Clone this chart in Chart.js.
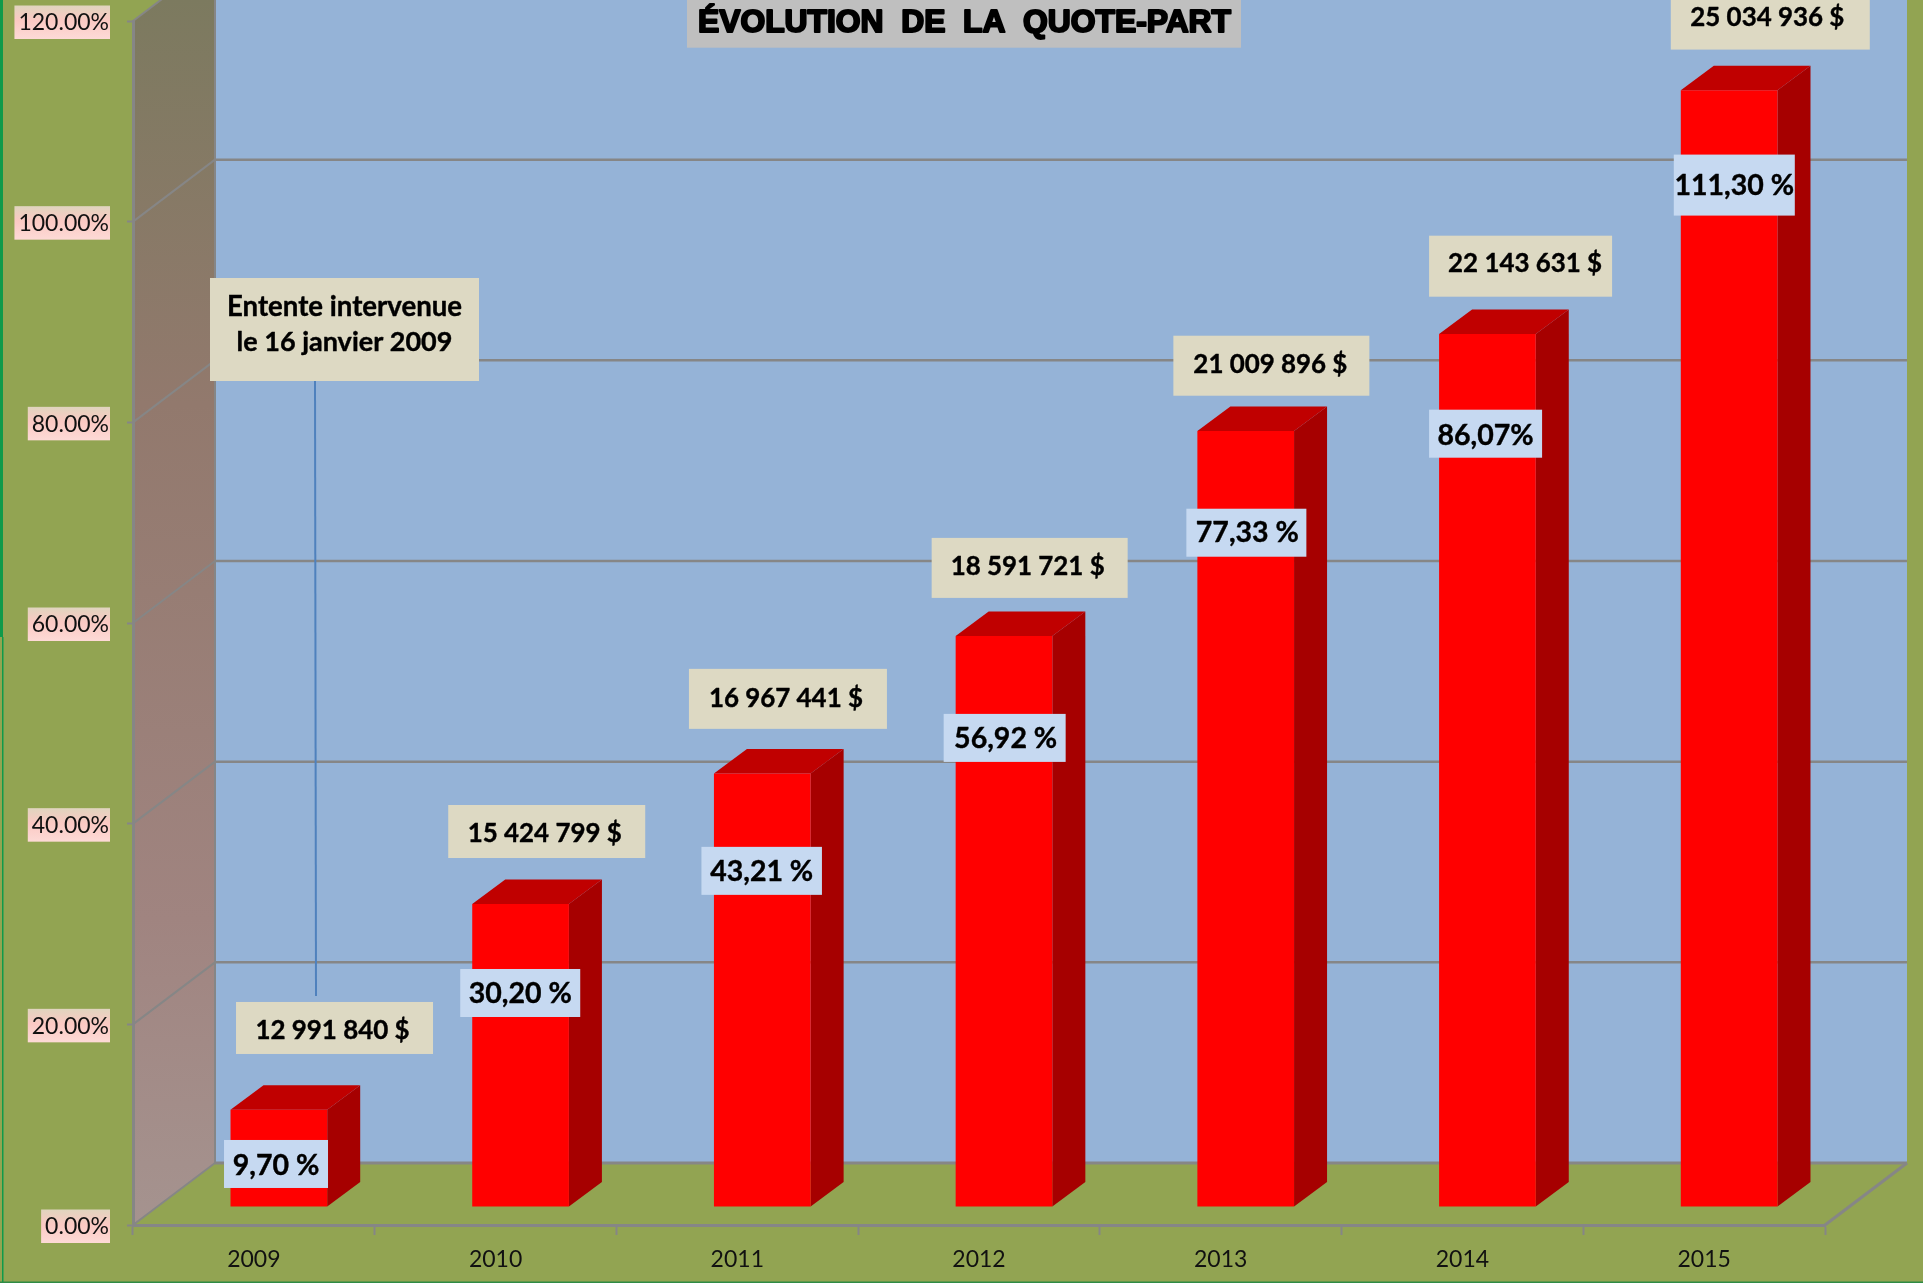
<!DOCTYPE html>
<html lang="fr">
<head>
<meta charset="utf-8">
<title>Évolution de la quote-part</title>
<style>
html,body{margin:0;padding:0;background:#92A452;overflow:hidden}
canvas{display:block}
</style>
<script src="https://cdn.jsdelivr.net/npm/chart.js@4"></script>
</head>
<body>
<canvas id="c" width="1923" height="1283"></canvas>
<script>
const categories = ['2009','2010','2011','2012','2013','2014','2015'];
const barValues = [9.70, 30.20, 43.21, 56.92, 77.33, 87.00, 111.30];
const percentLabels = ['9,70 %','30,20 %','43,21 %','56,92 %','77,33 %','86,07%','111,30 %'];
const amountLabels = ['12 991 840 $','15 424 799 $','16 967 441 $','18 591 721 $','21 009 896 $','22 143 631 $','25 034 936 $'];
const titleText = 'ÉVOLUTION  DE  LA  QUOTE-PART';
const noteLines = ['Entente intervenue','le 16 janvier 2009'];

// label boxes, placed relative to each bar's top-left front corner: [dx, dy, w, h]
const amountBoxes = [[5.5,-107.7,197,52],[-24,-99,197,53],[-25,-104.6,198,60],[-24,-98,196,60],[-24,-95.4,196,60],[-10,-98.4,183,61],[-10,-99.7,199,59]];
const percentBoxes = [[-6.5,30.3,104,48],[-12,65,120,48],[-12.5,73.4,120.5,48],[-12,78,122,48],[-11,77.6,120,48],[-10,75.6,113,48],[-7,64.3,121,61]];
// small nudges of the text inside its box: [dx, dy]
const amountNudge = [[-2,2.4],[-2,2.4],[-2,0],[-2,-1],[-1,-1],[4.5,-2.4],[-3,-2.4]];
const percentNudge = [[0,2],[0,1],[0,1],[1,1],[1,0],[0,2],[0,1]];

const GREEN='#92A452', WALL='#95B3D7', GRID='#868686', BOXTAN='#DDD9C3', BOXBLUE='#C6D9F1';
const FONT_R='Lato, sans-serif';
const wall = {dx:82, dy:-62};      // depth of the floor
const row  = {dx:25, dy:-18};      // where the bars stand on the floor
const bar3d = {dx:33, dy:-24.5};   // depth of a bar

const scene = {
  id:'scene',
  beforeDraw(chart){
    const {ctx, chartArea:a, scales:{y}} = chart;
    const W = chart.width, H = chart.height;
    ctx.save();
    ctx.fillStyle = GREEN; ctx.fillRect(0,0,W,H);
    // outer green frame
    ctx.fillStyle = '#0F9A4A';
    ctx.fillRect(0,0,3,637); ctx.fillRect(2,637,1.5,H-637);
    ctx.fillStyle = '#2E8B45';
    ctx.fillRect(0,H-1.5,W,1.5);
    const bx = a.left+wall.dx, by = a.bottom+wall.dy, rx = a.right+wall.dx, ty = a.top+wall.dy;
    // back wall
    ctx.fillStyle = WALL; ctx.fillRect(bx,0,rx-bx,by);
    // side wall
    const g = ctx.createLinearGradient(0,0,0,a.bottom);
    g.addColorStop(0,'#7C7A5F'); g.addColorStop(0.33,'#92796D'); g.addColorStop(0.75,'#A08480'); g.addColorStop(1,'#A5938F');
    ctx.fillStyle = g;
    ctx.beginPath(); ctx.moveTo(a.left,a.top); ctx.lineTo(bx,ty); ctx.lineTo(bx,by); ctx.lineTo(a.left,a.bottom); ctx.closePath(); ctx.fill();
    // gridlines: along the side wall, then the back wall
    ctx.strokeStyle = GRID; ctx.lineCap='butt';
    y.ticks.forEach(t=>{
      const p = y.getPixelForValue(t.value);
      ctx.lineWidth = 2;
      ctx.beginPath(); ctx.moveTo(a.left,p); ctx.lineTo(bx,p+wall.dy); ctx.stroke();
      ctx.lineWidth = t.value===0 ? 3 : 2.5;
      ctx.beginPath(); ctx.moveTo(bx,p+wall.dy); ctx.lineTo(rx,p+wall.dy); ctx.stroke();
    });
    // wall edge + floor right edge
    ctx.lineWidth = 2;
    ctx.beginPath(); ctx.moveTo(bx,0); ctx.lineTo(bx,by); ctx.stroke();
    ctx.lineWidth = 3;
    ctx.beginPath(); ctx.moveTo(a.right,a.bottom); ctx.lineTo(rx,by); ctx.stroke();
    // gradient plates behind the value-axis labels
    ctx.font = '23px Lato';
    y.ticks.forEach(t=>{
      const p = y.getPixelForValue(t.value)+1, w = ctx.measureText(t.label).width + 5;
      const gr = ctx.createLinearGradient(0,p-17,0,p+17);
      gr.addColorStop(0,'#DFD5BE'); gr.addColorStop(0.45,'#FBC9C3'); gr.addColorStop(1,'#FDDAD6');
      ctx.fillStyle = gr;
      ctx.fillRect(110-w,p-16.5,w,33.5);
    });
    ctx.restore();
  },
  beforeDatasetsDraw(chart){
    const {ctx} = chart;
    ctx.save();
    ctx.translate(row.dx,row.dy);
    chart.getDatasetMeta(0).data.forEach(el=>{
      const l=el.x-el.width/2, r=el.x+el.width/2, t=el.y, b=el.base;
      ctx.fillStyle='#A60000';
      ctx.beginPath(); ctx.moveTo(r,t); ctx.lineTo(r+bar3d.dx,t+bar3d.dy); ctx.lineTo(r+bar3d.dx,b+bar3d.dy); ctx.lineTo(r,b); ctx.closePath(); ctx.fill();
      ctx.fillStyle='#C00000';
      ctx.beginPath(); ctx.moveTo(l,t); ctx.lineTo(l+bar3d.dx,t+bar3d.dy); ctx.lineTo(r+bar3d.dx,t+bar3d.dy); ctx.lineTo(r,t); ctx.closePath(); ctx.fill();
    });
  },
  afterDatasetsDraw(chart){
    const {ctx} = chart;
    ctx.restore();
    // note leader line
    ctx.save();
    ctx.strokeStyle='#4F81BD'; ctx.lineWidth=2;
    ctx.beginPath(); ctx.moveTo(315,381); ctx.lineTo(316,996); ctx.stroke();
    const box=(x,y,w,h,fill)=>{ctx.fillStyle=fill;ctx.fillRect(x,y,w,h);};
    const bold=(s,x,y)=>{ctx.strokeText(s,x,y);ctx.fillText(s,x,y);};
    ctx.textAlign='center'; ctx.textBaseline='middle'; ctx.lineJoin='round';
    // note
    box(210,278,269,103,BOXTAN);
    ctx.fillStyle='#000'; ctx.strokeStyle='#000'; ctx.lineWidth=0.4;
    ctx.font='700 27.6px '+FONT_R;
    bold(noteLines[0],344.5,307);
    ctx.font='700 27px '+FONT_R;
    bold(noteLines[1],344.5,342);
    // title
    box(687,0,554,47.7,'#BFBFBF');
    ctx.font='700 31px "Liberation Sans", Arial, sans-serif';
    ctx.lineWidth=2; ctx.fillStyle='#000';
    const tw=ctx.measureText(titleText).width, k=533/tw;
    ctx.save(); ctx.translate(964.5,23); ctx.scale(k,1);
    bold(titleText,0,0);
    ctx.restore();
    // bar labels
    ctx.lineWidth=0.4;
    chart.getDatasetMeta(0).data.forEach((el,i)=>{
      const l=el.x-el.width/2+row.dx, t=el.y+row.dy;
      const [ax,ay,aw,ah]=amountBoxes[i], [px,py,pw,ph]=percentBoxes[i];
      box(l+ax,t+ay,aw,ah,BOXTAN);
      box(l+px,t+py,pw,ph,BOXBLUE);
      ctx.fillStyle='#000'; ctx.font='700 25.9px '+FONT_R;
      bold(amountLabels[i],l+ax+aw/2+amountNudge[i][0],t+ay+ah/2+amountNudge[i][1]);
      ctx.font='700 28.5px '+FONT_R;
      bold(percentLabels[i],l+px+pw/2+percentNudge[i][0],t+py+ph/2+percentNudge[i][1]);
    });
    ctx.restore();
  }
};

new Chart(document.getElementById('c'),{
  type:'bar',
  data:{labels:categories,datasets:[{
    data:barValues,
    backgroundColor:'#FF0000',
    borderWidth:0,
    barPercentage:0.4,
    categoryPercentage:1,
    clip:false
  }]},
  options:{
    responsive:false,
    animation:false,
    devicePixelRatio:1,
    layout:{autoPadding:false,padding:{top:21,right:98,left:0,bottom:0}},
    plugins:{legend:{display:false},title:{display:false},tooltip:{enabled:false}},
    scales:{
      y:{
        min:0,max:120,
        afterFit:s=>{s.width=133;s.paddingTop=0;s.paddingBottom=0;},
        border:{color:GRID,width:3},
        grid:{drawOnChartArea:false,drawTicks:true,tickLength:6,tickColor:GRID,tickWidth:2},
        ticks:{
          stepSize:20,
          padding:18,
          labelOffset:2,
          color:'#111',
          font:{family:'Lato',size:23},
          callback:v=>v.toFixed(2)+'%'
        }
      },
      x:{
        afterFit:s=>{s.height=58;},
        border:{color:GRID,width:3},
        grid:{drawOnChartArea:false,drawTicks:true,tickLength:10,tickColor:GRID,tickWidth:2},
        ticks:{padding:11,color:'#111',font:{family:'Lato',size:23}}
      }
    }
  },
  plugins:[scene]
});
</script>
</body>
</html>
